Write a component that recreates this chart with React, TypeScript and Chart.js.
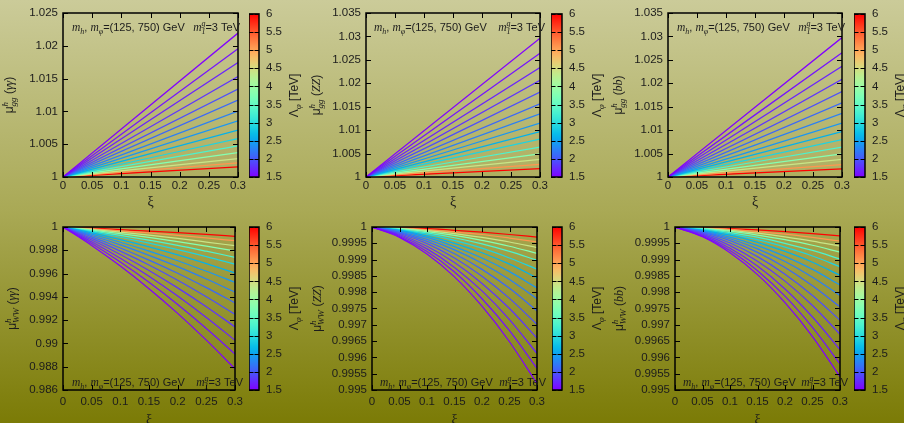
import React, { useEffect, useRef } from "react";
import { Chart, registerables } from "chart.js";
Chart.register(...registerables);

// ---------------- data ----------------
// Λφ [TeV] of each curve (purple → red)
const LAMBDA_TEV = [1.5, 1.6, 1.7, 1.8, 1.95, 2.1, 2.25, 2.4, 2.6, 2.9, 3.3, 3.8, 4.4, 5.1, 6.0];
const CB_MIN = 1.5;
const CB_MAX = 6;
const LAMBDA_TICKS = [1.5, 2, 2.5, 3, 3.5, 4, 4.5, 5, 5.5, 6];

const XI_TICKS = [0, 0.05, 0.1, 0.15, 0.2, 0.25, 0.3];
const XI_TOP = [0, 0.3];
const XI_BOTTOM = [0, 0.05, 0.1, 0.15, 0.2, 0.25, 0.3];

const Y_TICKS_GG_AA = [1, 1.005, 1.01, 1.015, 1.02, 1.025];
const Y_TICKS_GG = [1, 1.005, 1.01, 1.015, 1.02, 1.025, 1.03, 1.035];
const Y_TICKS_WW_AA = [0.986, 0.988, 0.99, 0.992, 0.994, 0.996, 0.998, 1];
const Y_TICKS_WW = [0.995, 0.9955, 0.996, 0.9965, 0.997, 0.9975, 0.998, 0.9985, 0.999, 0.9995, 1];

// μ^h_gg, values at ξ = 0 and ξ = 0.3
const MU_GG_AA = [
  [1, 1.02194], [1, 1.01954], [1, 1.01745], [1, 1.01531], [1, 1.01342],
  [1, 1.01173], [1, 1.01005], [1, 1.00857], [1, 1.00714], [1, 1.00587],
  [1, 1.00474], [1, 1.00372], [1, 1.00281], [1, 1.00214], [1, 1.00153],
];
const MU_GG_ZZ = [
  [1, 1.02963], [1, 1.0264], [1, 1.02338], [1, 1.02064], [1, 1.01811],
  [1, 1.01561], [1, 1.01346], [1, 1.01152], [1, 1.0097], [1, 1.00807],
  [1, 1.0064], [1, 1.00496], [1, 1.00375], [1, 1.00267], [1, 1.00181],
];
const MU_GG_BB = [
  [1, 1.02975], [1, 1.02652], [1, 1.02364], [1, 1.02084], [1, 1.01825],
  [1, 1.01581], [1, 1.01358], [1, 1.0115], [1, 1.0097], [1, 1.00798],
  [1, 1.0064], [1, 1.00496], [1, 1.00374], [1, 1.00266], [1, 1.00172],
];

// μ^h_WW, values at ξ = 0, 0.05, ..., 0.3
const MU_WW_AA = [
  [1, 0.99841, 0.99664, 0.9947, 0.99258, 0.99028, 0.98782],
  [1, 0.99858, 0.99699, 0.99525, 0.99335, 0.99129, 0.98909],
  [1, 0.99873, 0.99732, 0.99577, 0.99407, 0.99223, 0.99027],
  [1, 0.99888, 0.99764, 0.99627, 0.99477, 0.99315, 0.99142],
  [1, 0.99902, 0.99793, 0.99674, 0.99543, 0.99401, 0.9925],
  [1, 0.99915, 0.9982, 0.99716, 0.99603, 0.99479, 0.99348],
  [1, 0.99927, 0.99846, 0.99756, 0.99659, 0.99553, 0.9944],
  [1, 0.99938, 0.99869, 0.99793, 0.9971, 0.9962, 0.99524],
  [1, 0.99949, 0.99891, 0.99829, 0.9976, 0.99685, 0.99606],
  [1, 0.99958, 0.99912, 0.99861, 0.99805, 0.99745, 0.9968],
  [1, 0.99966, 0.99928, 0.99887, 0.99842, 0.99792, 0.9974],
  [1, 0.99973, 0.99943, 0.9991, 0.99874, 0.99836, 0.99794],
  [1, 0.99979, 0.99956, 0.9993, 0.99902, 0.99871, 0.99839],
  [1, 0.99985, 0.99967, 0.99949, 0.99928, 0.99906, 0.99882],
  [1, 0.9999, 0.99978, 0.99965, 0.99951, 0.99936, 0.9992],
];
const MU_WW_ZZ = [
  [1, 0.99968, 0.99917, 0.99847, 0.99757, 0.99648, 0.9952],
  [1, 0.99971, 0.99925, 0.99862, 0.9978, 0.99682, 0.99566],
  [1, 0.99974, 0.99933, 0.99876, 0.99804, 0.99716, 0.99612],
  [1, 0.99977, 0.99941, 0.99891, 0.99827, 0.9975, 0.99659],
  [1, 0.9998, 0.99949, 0.99905, 0.99849, 0.99781, 0.99701],
  [1, 0.99983, 0.99956, 0.99918, 0.9987, 0.99812, 0.99743],
  [1, 0.99985, 0.99962, 0.9993, 0.99889, 0.99839, 0.9978],
  [1, 0.99988, 0.99968, 0.9994, 0.99905, 0.99863, 0.99813],
  [1, 0.9999, 0.99973, 0.9995, 0.99921, 0.99886, 0.99844],
  [1, 0.99991, 0.99978, 0.99959, 0.99935, 0.99905, 0.99871],
  [1, 0.99993, 0.99982, 0.99967, 0.99948, 0.99925, 0.99898],
  [1, 0.99995, 0.99986, 0.99974, 0.99959, 0.99941, 0.99919],
  [1, 0.99996, 0.99989, 0.9998, 0.99968, 0.99954, 0.99937],
  [1, 0.99997, 0.99992, 0.99985, 0.99977, 0.99966, 0.99954],
  [1, 0.99998, 0.99995, 0.9999, 0.99984, 0.99977, 0.99969],
];
const MU_WW_BB = [
  [1, 0.9997, 0.99921, 0.99854, 0.99768, 0.99664, 0.99541],
  [1, 0.99972, 0.99928, 0.99866, 0.99788, 0.99692, 0.9958],
  [1, 0.99975, 0.99935, 0.9988, 0.9981, 0.99724, 0.99624],
  [1, 0.99978, 0.99943, 0.99895, 0.99834, 0.99759, 0.99671],
  [1, 0.99981, 0.99951, 0.99909, 0.99855, 0.9979, 0.99714],
  [1, 0.99984, 0.99958, 0.99922, 0.99876, 0.9982, 0.99755],
  [1, 0.99986, 0.99964, 0.99933, 0.99894, 0.99846, 0.9979],
  [1, 0.99988, 0.99969, 0.99943, 0.9991, 0.9987, 0.99822],
  [1, 0.9999, 0.99975, 0.99953, 0.99925, 0.99892, 0.99852],
  [1, 0.99992, 0.99979, 0.99961, 0.99938, 0.99911, 0.99878],
  [1, 0.99994, 0.99983, 0.99969, 0.9995, 0.99928, 0.99902],
  [1, 0.99995, 0.99987, 0.99975, 0.99961, 0.99944, 0.99923],
  [1, 0.99996, 0.9999, 0.99981, 0.9997, 0.99957, 0.99941],
  [1, 0.99997, 0.99993, 0.99986, 0.99978, 0.99968, 0.99957],
  [1, 0.99998, 0.99995, 0.99991, 0.99986, 0.9998, 0.99973],
];

// ---------------- styles ----------------
const SANS = '"Liberation Sans", Arial, sans-serif';
const SERIF = '"Liberation Serif", "Times New Roman", serif';
const INK = "#1c1c1c";
const TICK_FONT = { family: '"Liberation Sans", Arial, sans-serif', size: 11.5 };

function rainbow(lam: number): string {
  const x = Math.min(1, Math.max(0, (lam - CB_MIN) / (CB_MAX - CB_MIN)));
  const r = Math.min(1, Math.abs(2 * x - 0.5));
  const g = Math.max(0, Math.sin(Math.PI * x));
  const b = Math.max(0, Math.cos((Math.PI * x) / 2));
  return `rgb(${Math.round(r * 255)},${Math.round(g * 255)},${Math.round(b * 255)})`;
}

type Seg = { t?: string; sup?: string; sub?: string; f: string };

function drawRich(ctx: any, segs: Seg[], x: number, y: number, align: string) {
  const widths: number[] = [];
  let total = 0;
  for (const s of segs) {
    ctx.font = s.f;
    let w = 0;
    if (s.t !== undefined) w = ctx.measureText(s.t).width;
    else w = Math.max(s.sup ? ctx.measureText(s.sup).width : 0, s.sub ? ctx.measureText(s.sub).width : 0);
    widths.push(w);
    total += w;
  }
  let cx = align === "left" ? x : align === "right" ? x - total : x - total / 2;
  ctx.textAlign = "left";
  ctx.textBaseline = "alphabetic";
  segs.forEach((s, i) => {
    ctx.font = s.f;
    if (s.t !== undefined) ctx.fillText(s.t, cx, y);
    else {
      if (s.sup) ctx.fillText(s.sup, cx, y - 5);
      if (s.sub) ctx.fillText(s.sub, cx, y + 3);
    }
    cx += widths[i];
  });
}

const ANN_LEFT: Seg[] = [
  { t: "m", f: `italic 11.5px ${SERIF}` },
  { sub: "h", f: `italic 8px ${SERIF}` },
  { t: ", ", f: `11px ${SANS}` },
  { t: "m", f: `italic 11.5px ${SERIF}` },
  { sub: "φ", f: `italic 8px ${SERIF}` },
  { t: "=(125, 750) GeV", f: `11px ${SANS}` },
];
const ANN_RIGHT: Seg[] = [
  { t: "m", f: `italic 11.5px ${SERIF}` },
  { sup: "g", sub: "1", f: `italic 8px ${SERIF}` },
  { t: "=3 TeV", f: `11px ${SANS}` },
];
const CB_TITLE: Seg[] = [
  { t: "Λ", f: `12px ${SANS}` },
  { sub: "φ", f: `italic 9px ${SERIF}` },
  { t: " [TeV]", f: `12px ${SANS}` },
];
function yTitle(sub: string, ch: string): Seg[] {
  return [
    { t: "μ", f: `12px ${SANS}` },
    { sup: "h", sub, f: `italic 9px ${SERIF}` },
    { t: " (", f: `12px ${SANS}` },
    { t: ch, f: `italic 12px ${SERIF}` },
    { t: ")", f: `12px ${SANS}` },
  ];
}

// ---------------- layout ----------------
type Panel = {
  rowTop: number; rowH: number; colLeft: number;
  plot: number[]; cb: number[];
  yMin: number; yMax: number; yTicks: number[];
  xs: number[]; series: number[][];
  title: Seg[]; titleX: number; xPad: number;
  annY: number; annL: number; annR: number; xiY: number;
};

const PANELS: Panel[] = [
  { rowTop: 0, rowH: 210, colLeft: 0, plot: [63, 13, 245, 177], cb: [249, 259], yMin: 1, yMax: 1.025, yTicks: Y_TICKS_GG_AA, xs: XI_TOP, series: MU_GG_AA, title: yTitle("gg", "γγ"), titleX: 13, xPad: 2, annY: 31, annL: 72, annR: 240, xiY: 202 },
  { rowTop: 0, rowH: 210, colLeft: 300, plot: [366, 13, 547, 177], cb: [551, 562], yMin: 1, yMax: 1.035, yTicks: Y_TICKS_GG, xs: XI_TOP, series: MU_GG_ZZ, title: yTitle("gg", "ZZ"), titleX: 320, xPad: 2, annY: 31, annL: 374, annR: 545, xiY: 202 },
  { rowTop: 0, rowH: 210, colLeft: 600, plot: [668, 13, 849, 177], cb: [854, 865], yMin: 1, yMax: 1.035, yTicks: Y_TICKS_GG, xs: XI_TOP, series: MU_GG_BB, title: yTitle("gg", "bb"), titleX: 622, xPad: 2, annY: 31, annL: 677, annR: 845, xiY: 202 },
  { rowTop: 210, rowH: 213, colLeft: 0, plot: [63, 227, 245, 390], cb: [249, 259], yMin: 0.986, yMax: 1, yTicks: Y_TICKS_WW_AA, xs: XI_BOTTOM, series: MU_WW_AA, title: yTitle("WW", "γγ"), titleX: 16, xPad: 5, annY: 386, annL: 72, annR: 243, xiY: 420 },
  { rowTop: 210, rowH: 213, colLeft: 300, plot: [372, 227, 547, 390], cb: [552, 562], yMin: 0.995, yMax: 1, yTicks: Y_TICKS_WW, xs: XI_BOTTOM, series: MU_WW_ZZ, title: yTitle("WW", "ZZ"), titleX: 321, xPad: 5, annY: 386, annL: 380, annR: 546, xiY: 420 },
  { rowTop: 210, rowH: 213, colLeft: 600, plot: [675, 227, 850, 390], cb: [854, 865], yMin: 0.995, yMax: 1, yTicks: Y_TICKS_WW, xs: XI_BOTTOM, series: MU_WW_BB, title: yTitle("WW", "bb"), titleX: 623, xPad: 5, annY: 386, annL: 683, annR: 848, xiY: 420 },
];

const X_AXIS_H = 30;

function MainChart({ p }: { p: Panel }) {
  const ref = useRef<HTMLCanvasElement>(null);
  const left = p.colLeft;
  const top = p.rowTop;
  const W = p.plot[2] + 3 - left;
  const H = p.rowH;
  useEffect(() => {
    const [pl, pt, pr, pb] = p.plot;
    const deco = {
      id: "deco",
      afterDraw(chart: any) {
        const { ctx, chartArea: a, scales } = chart;
        ctx.save();
        ctx.strokeStyle = "#000";
        ctx.lineWidth = 1;
        ctx.beginPath();
        const TL = 5;
        for (const t of scales.x.ticks) {
          const px = Math.round(scales.x.getPixelForValue(t.value)) + 0.5;
          ctx.moveTo(px, a.bottom); ctx.lineTo(px, a.bottom - TL);
          ctx.moveTo(px, a.top); ctx.lineTo(px, a.top + TL);
        }
        for (const t of scales.y.ticks) {
          const py = Math.round(scales.y.getPixelForValue(t.value)) + 0.5;
          ctx.moveTo(a.left, py); ctx.lineTo(a.left + TL, py);
          ctx.moveTo(a.right, py); ctx.lineTo(a.right - TL, py);
        }
        ctx.stroke();
        ctx.lineWidth = 1.5;
        ctx.strokeRect(a.left, a.top, a.right - a.left, a.bottom - a.top);
        ctx.fillStyle = INK;
        drawRich(ctx, ANN_LEFT, p.annL - left, p.annY - top, "left");
        drawRich(ctx, ANN_RIGHT, p.annR - left, p.annY - top, "right");
        ctx.font = `14px ${SERIF}`;
        ctx.textAlign = "center";
        ctx.textBaseline = "middle";
        ctx.fillText("ξ", (a.left + a.right) / 2, p.xiY - top);
        ctx.translate(p.titleX - left, (a.top + a.bottom) / 2);
        ctx.rotate(-Math.PI / 2);
        drawRich(ctx, p.title, 0, 0, "center");
        ctx.restore();
      },
    };
    const chart = new Chart(ref.current as HTMLCanvasElement, {
      type: "line",
      data: {
        datasets: p.series.map((vals, i) => ({
          data: p.xs.map((x, j) => ({ x, y: vals[j] })),
          borderColor: rainbow(LAMBDA_TEV[i]),
          borderWidth: 1.25,
          pointRadius: 0,
          fill: false,
          cubicInterpolationMode: "monotone",
        })),
      },
      options: {
        animation: false,
        responsive: false,
        events: [],
        layout: {
          autoPadding: false,
          padding: { left: 0, top: pt - top, right: W - (pr - left), bottom: H - (pb - top) - X_AXIS_H },
        },
        plugins: { legend: { display: false }, tooltip: { enabled: false } },
        scales: {
          x: {
            type: "linear",
            min: 0,
            max: 0.3,
            afterBuildTicks: (s: any) => { s.ticks = XI_TICKS.map((v) => ({ value: v })); },
            afterFit: (s: any) => { s.height = X_AXIS_H; },
            ticks: { font: TICK_FONT, color: INK, padding: p.xPad, maxRotation: 0, autoSkip: false, callback: (v: any) => String(v) },
            grid: { display: false, drawTicks: false },
            border: { display: false },
          },
          y: {
            type: "linear",
            min: p.yMin,
            max: p.yMax,
            afterBuildTicks: (s: any) => { s.ticks = p.yTicks.map((v) => ({ value: v })); },
            afterFit: (s: any) => { s.width = pl - left; },
            ticks: { font: TICK_FONT, color: INK, padding: 5, autoSkip: false, callback: (v: any) => String(v) },
            grid: { display: false, drawTicks: false },
            border: { display: false },
          },
        },
      } as any,
      plugins: [deco],
    });
    return () => chart.destroy();
  }, []);
  return (
    <canvas ref={ref} width={W} height={H} style={{ position: "absolute", left, top, width: W, height: H }} />
  );
}

function ColorBar({ p }: { p: Panel }) {
  const ref = useRef<HTMLCanvasElement>(null);
  const left = p.cb[0];
  const top = p.rowTop;
  const cbW = p.cb[1] - p.cb[0];
  const W = cbW + 48;
  const H = p.rowH;
  useEffect(() => {
    const [, pt, , pb] = p.plot;
    const deco = {
      id: "cbdeco",
      afterDraw(chart: any) {
        const { ctx, chartArea: a, scales } = chart;
        ctx.save();
        ctx.strokeStyle = "#000";
        ctx.lineWidth = 1;
        ctx.beginPath();
        for (const t of scales.y.ticks) {
          const py = Math.round(scales.y.getPixelForValue(t.value)) + 0.5;
          ctx.moveTo(a.left, py); ctx.lineTo(a.left + 4.5, py);
          ctx.moveTo(a.right, py); ctx.lineTo(a.right - 4.5, py);
        }
        ctx.stroke();
        ctx.lineWidth = 1.5;
        ctx.strokeRect(a.left, a.top, a.right - a.left, a.bottom - a.top);
        ctx.fillStyle = INK;
        ctx.translate(a.right + 38.5, (a.top + a.bottom) / 2);
        ctx.rotate(-Math.PI / 2);
        drawRich(ctx, CB_TITLE, 0, 0, "center");
        ctx.restore();
      },
    };
    const chart = new Chart(ref.current as HTMLCanvasElement, {
      type: "bar",
      data: {
        labels: ["Λφ"],
        datasets: [{
          data: [[CB_MIN, CB_MAX]],
          barPercentage: 1,
          categoryPercentage: 1,
          borderWidth: 0,
          backgroundColor: (c: any) => {
            const ca = c.chart.chartArea;
            if (!ca) return rainbow(CB_MIN);
            const g = c.chart.ctx.createLinearGradient(0, ca.bottom, 0, ca.top);
            for (let i = 0; i <= 30; i++) g.addColorStop(i / 30, rainbow(CB_MIN + ((CB_MAX - CB_MIN) * i) / 30));
            return g;
          },
        }],
      },
      options: {
        animation: false,
        responsive: false,
        events: [],
        layout: { autoPadding: false, padding: { left: 0, right: 0, top: pt - top, bottom: H - (pb - top) } },
        plugins: { legend: { display: false }, tooltip: { enabled: false } },
        scales: {
          x: { display: false },
          y: {
            position: "right",
            min: CB_MIN,
            max: CB_MAX,
            afterBuildTicks: (s: any) => { s.ticks = LAMBDA_TICKS.map((v) => ({ value: v })); },
            afterFit: (s: any) => { s.width = W - cbW; },
            ticks: { font: TICK_FONT, color: INK, padding: 7, autoSkip: false, callback: (v: any) => String(v) },
            grid: { display: false, drawTicks: false },
            border: { display: false },
          },
        },
      } as any,
      plugins: [deco],
    });
    return () => chart.destroy();
  }, []);
  return (
    <canvas ref={ref} width={W} height={H} style={{ position: "absolute", left, top, width: W, height: H }} />
  );
}

export default function App() {
  return (
    <div
      style={{
        position: "absolute",
        left: 0,
        top: 0,
        width: 904,
        height: 423,
        overflow: "hidden",
        background: "linear-gradient(to bottom, #cbcb99 0%, #a9a955 50%, #7b7b06 100%)",
      }}
    >
      {PANELS.map((p, i) => (
        <React.Fragment key={i}>
          <MainChart p={p} />
          <ColorBar p={p} />
        </React.Fragment>
      ))}
    </div>
  );
}
